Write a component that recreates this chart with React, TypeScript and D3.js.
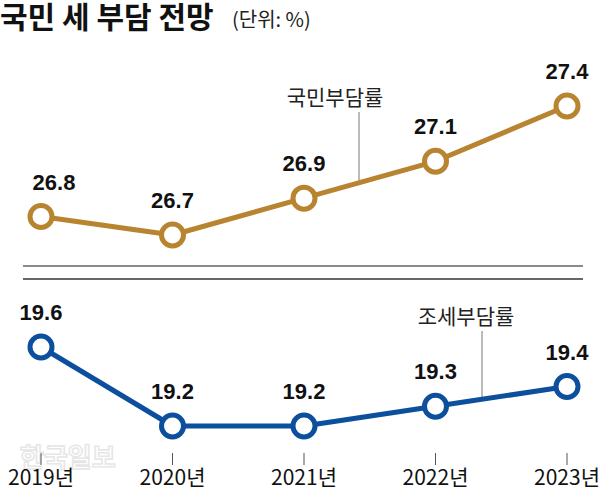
import React from "react";
import * as d3 from "d3";

const years = ["2019년", "2020년", "2021년", "2022년", "2023년"];
const nationalBurden = [26.8, 26.7, 26.9, 27.1, 27.4];
const taxBurden = [19.6, 19.2, 19.2, 19.3, 19.4];
const title = "국민 세 부담 전망";
const unit = "(단위: %)";
const topLabel = "국민부담률";
const bottomLabel = "조세부담률";

const W = 602;
const H = 489;
const GOLD = "#b8842f";
const BLUE = "#0c4f9d";
const NUM_FONT = "'Liberation Sans', Arial, sans-serif";
const KR_FONT = "'Noto Sans CJK KR', 'Noto Sans', sans-serif";

export default function App() {
  const x = d3.scalePoint<string>().domain(years).range([41, 567]);
  const yTop = d3.scaleLinear().domain([26.7, 27.4]).range([235, 106]);
  const yBot = d3.scaleLinear().domain([19.2, 19.6]).range([426, 347]);

  const line = (ys: d3.ScaleLinear<number, number>) =>
    d3
      .line<number>()
      .x((_, i) => x(years[i]) as number)
      .y((d) => ys(d));

  const series = [
    { data: nationalBurden, ys: yTop, color: GOLD },
    { data: taxBurden, ys: yBot, color: BLUE },
  ];

  const topLeaderX = 359;
  const botLeaderX = 482;
  const segY = (data: number[], ys: any, px: number) => {
    const xs = years.map((y) => x(y) as number);
    for (let i = 0; i < xs.length - 1; i++) {
      if (px >= xs[i] && px <= xs[i + 1]) {
        const t = (px - xs[i]) / (xs[i + 1] - xs[i]);
        return ys(data[i]) + t * (ys(data[i + 1]) - ys(data[i]));
      }
    }
    return 0;
  };

  return (
    <svg
      width={W}
      height={H}
      style={{ position: "absolute", left: 0, top: 0, background: "#fff" }}
    >
      <rect width={W} height={H} fill="#fff" />
      <text x={0} y={28} fontFamily={KR_FONT} fontWeight={700} fontSize={30} fill="#111">
        {title}
      </text>
      <text x={232} y={27} fontFamily={KR_FONT} fontSize={20} fill="#222">
        {unit}
      </text>

      {/* watermark */}
      <text
        x={20}
        y={467}
        fontFamily={KR_FONT}
        fontWeight={700}
        fontSize={26}
        fill="none"
        stroke="#e6e6e6"
        strokeWidth={1.5}
      >
        한국일보
      </text>

      {/* break lines */}
      <line x1={23} x2={583} y1={266} y2={266} stroke="#8a8a8a" strokeWidth={2} />
      <line x1={23} x2={583} y1={279} y2={279} stroke="#333" strokeWidth={1.6} />

      {/* leader lines */}
      <line
        x1={topLeaderX}
        x2={topLeaderX}
        y1={112}
        y2={segY(nationalBurden, yTop, topLeaderX)}
        stroke="#777"
        strokeWidth={1}
      />
      <text x={335} y={105} textAnchor="middle" fontFamily={KR_FONT} fontSize={21} fill="#222">
        {topLabel}
      </text>
      <line
        x1={botLeaderX}
        x2={botLeaderX}
        y1={331}
        y2={segY(taxBurden, yBot, botLeaderX)}
        stroke="#777"
        strokeWidth={1}
      />
      <text x={466} y={324} textAnchor="middle" fontFamily={KR_FONT} fontSize={21} fill="#222">
        {bottomLabel}
      </text>

      {series.map((s, si) => (
        <g key={si}>
          <path
            d={line(s.ys)(s.data) || ""}
            fill="none"
            stroke={s.color}
            strokeWidth={5}
            strokeLinejoin="round"
          />
          {s.data.map((v, i) => (
            <circle
              key={i}
              cx={x(years[i])}
              cy={s.ys(v)}
              r={11}
              fill="#fff"
              stroke={s.color}
              strokeWidth={5}
            />
          ))}
          {s.data.map((v, i) => (
            <text
              key={"t" + i}
              x={(x(years[i]) as number) + (si === 0 && i === 0 ? 13 : 0)}
              y={s.ys(v) - 27}
              textAnchor="middle"
              fontFamily={NUM_FONT}
              fontWeight={700}
              fontSize={22}
              fill="#111"
            >
              {v.toFixed(1)}
            </text>
          ))}
        </g>
      ))}

      {years.map((y) => (
        <g key={y}>
          <line x1={x(y)} x2={x(y)} y1={453} y2={465} stroke="#555" strokeWidth={1} />
          <text
            x={x(y)}
            y={485}
            textAnchor="middle"
            fontFamily={KR_FONT}
            fontSize={21}
            fill="#111"
          >
            {y}
          </text>
        </g>
      ))}
    </svg>
  );
}
